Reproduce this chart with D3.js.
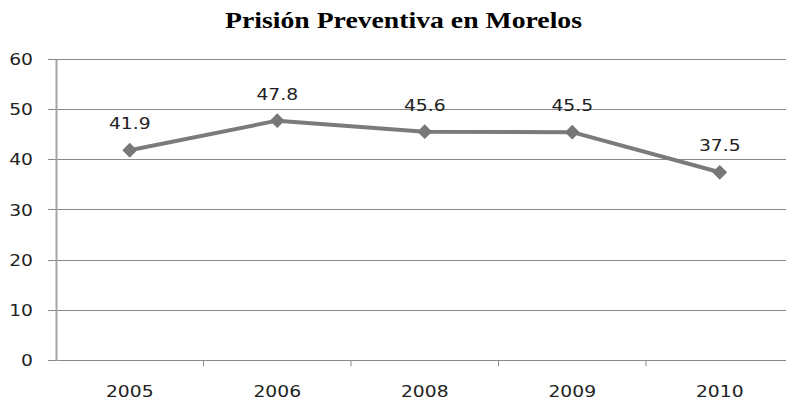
<!DOCTYPE html>
<html><head><meta charset="utf-8">
<script src="https://cdn.jsdelivr.net/npm/d3@7"></script>
<style>body{margin:0;background:#fff}svg{display:block}</style>
</head><body><svg id="c" width="786" height="401"></svg>
<script>
const categories = ["2005","2006","2008","2009","2010"];
const values = [41.9, 47.8, 45.6, 45.5, 37.5];
const yTicks = [0,10,20,30,40,50,60];
const title = "Prisión Preventiva en Morelos";

const svg = d3.select("#c");
const mLeft = 56, mRight = 793.5, mTop = 59.5, mBottom = 360.3;
const SX = 1.17;
const FONT = "DejaVu Sans, Verdana, sans-serif";
const x = d3.scaleBand().domain(categories).range([mLeft, mRight]);
const y = d3.scaleLinear().domain([0, 60]).range([mBottom, mTop]);

svg.append("text").attr("x", 403.5).attr("y", 28).attr("text-anchor","middle")
  .attr("font-family","Liberation Serif, Times New Roman, serif").attr("font-weight","bold")
  .attr("font-size", 23).attr("fill","#000")
  .attr("textLength", 357).attr("lengthAdjust","spacingAndGlyphs").text(title);

// gridlines
svg.append("g").selectAll("line").data(yTicks).join("line")
  .attr("x1", 48).attr("x2", 786).attr("y1", d=>y(d)).attr("y2", d=>y(d))
  .attr("stroke","#8a8a8a").attr("stroke-width",1).attr("shape-rendering","crispEdges");

// y axis
const ya = svg.append("g").attr("transform",`translate(${mLeft},0)`)
  .call(d3.axisLeft(y).tickValues(yTicks).tickSize(0).tickPadding(23));
ya.select(".domain").attr("stroke","#a6a6a6").attr("stroke-width",2);
ya.selectAll("text").attr("font-family",FONT).attr("font-size",16).attr("fill","#222")
  .attr("x", -23/SX).attr("transform", `scale(${SX},1)`);

// x axis
const xa = svg.append("g").attr("transform",`translate(0,${mBottom})`)
  .call(d3.axisBottom(x).tickSize(0).tickPadding(25));
xa.select(".domain").remove();
xa.selectAll("text").attr("font-family",FONT).attr("font-size",16).attr("fill","#222")
  .attr("transform", `scale(${SX},1)`);
svg.append("g").selectAll("line").data(categories.slice(1)).join("line")
  .attr("x1", d=>x(d)).attr("x2", d=>x(d)).attr("y1", mBottom).attr("y2", mBottom+6)
  .attr("stroke","#8a8a8a").attr("stroke-width",1);

const cx = d => x(d) + x.bandwidth()/2;
const pts = categories.map((c,i)=>[cx(c), y(values[i])]);
svg.append("path").attr("d", d3.line()(pts)).attr("fill","none")
  .attr("stroke","#7b7b7b").attr("stroke-width",4).attr("stroke-linejoin","round");
svg.append("g").selectAll("path").data(pts).join("path")
  .attr("d", d3.symbol(d3.symbolDiamond2, 140)())
  .attr("transform", d=>`translate(${d[0]},${d[1]})`).attr("fill","#777");

svg.append("g").selectAll("text").data(categories).join("text")
  .attr("transform", (d,i)=>`translate(${cx(d)},${y(values[i]) - 21}) scale(${SX},1)`)
  .attr("text-anchor","middle")
  .attr("font-family",FONT).attr("font-size",16).attr("fill","#222")
  .text((d,i)=>values[i]);
</script></body></html>
